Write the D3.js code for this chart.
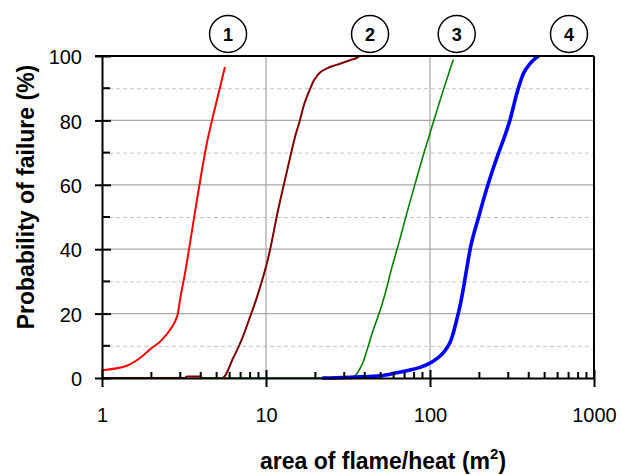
<!DOCTYPE html>
<html>
<head>
<meta charset="utf-8">
<script src="https://cdn.jsdelivr.net/npm/d3@7"></script>
<style>
  html, body { margin: 0; padding: 0; background: #fff; }
  svg { display: block; font-family: "Liberation Sans", Arial, sans-serif; }
</style>
</head>
<body>
<svg id="chart" width="622" height="475"></svg>
<script>
// Cumulative failure probability vs. exposed area (log scale)
const curve1X = [1.0, 1.415, 1.705, 2.01, 2.26, 2.60, 2.79, 2.906, 2.99, 3.075, 3.162, 3.44, 3.74, 4.07, 4.37, 4.69, 5.17, 5.62];
const curve1Y = [2.4, 3.8, 6.2, 9.3, 11.3, 15.0, 17.6, 20.2, 24.3, 27.7, 30.8, 41.9, 53.4, 64.6, 73.2, 80.1, 89.0, 96.6];

const curve2X = [1.0, 3.2, 3.3, 3.95, 4.1, 5.415, 6.32, 7.11, 7.88, 8.78, 9.49, 10.1, 10.83, 11.62, 12.75, 14.0, 15.24, 16.12, 16.81, 17.71, 18.55, 19.43, 20.46, 21.35, 23.22, 25.62, 28.27, 32.52, 35.4, 37.43];
const curve2Y = [0, 0, 0.5, 0.5, 0, 0, 6.3, 11.9, 18.1, 24.9, 30.5, 35.4, 42.2, 50.1, 59.3, 68.3, 76.0, 80.1, 83.8, 87.2, 89.7, 92.1, 93.8, 94.9, 96.0, 96.9, 97.6, 98.7, 99.3, 100];

const curve3X = [4.13, 33.3, 35.4, 37.4, 39.2, 41.9, 45.1, 48.4, 53.2, 58.7, 65.6, 70.4, 81.0, 91.0, 100, 120.5, 138.7];
const curve3Y = [0, 0, 1.0, 2.9, 5.1, 9.7, 15.0, 19.3, 26.1, 34.5, 43.2, 49.1, 60.2, 69.2, 76.0, 89.4, 98.9];

const curve4X = [22.0, 24.6, 39.2, 51.9, 62.7, 79.1, 86.9, 100, 110, 120.5, 126.5, 132.4, 138.7, 145.5, 152.4, 159.6, 167.4, 175.4, 197.0, 226.7, 260.9, 279.9, 307.4, 337.9, 370.6, 407.2, 436.8, 461.9];
const curve4Y = [0, 0, 0.4, 0.8, 1.6, 2.7, 3.3, 4.6, 6.0, 7.8, 9.3, 11.0, 14.0, 18.1, 22.4, 27.7, 33.9, 39.8, 49.6, 60.4, 69.7, 73.9, 80.1, 88.3, 94.5, 97.6, 99.2, 100];

const seriesColors = ["#ff0000", "#800000", "#008000", "#0000ff"];
const seriesWidths = [2, 2, 1.6, 3.6];

const labelText = ["1", "2", "3", "4"];
const labelAt = [5.87, 43.1, 145.5, 704];

const xMajorTicks = [1, 10, 100, 1000];
const yMajorTicks = [0, 20, 40, 60, 80, 100];
const yMinorTicks = [10, 30, 50, 70, 90];

const margin = { left: 102, right: 28, top: 56, bottom: 97 };
const W = 622, H = 475;
const svg = d3.select("#chart");

const x = d3.scaleLog().domain([1, 1000]).range([margin.left, W - margin.right]);
const y = d3.scaleLinear().domain([0, 100]).range([H - margin.bottom, margin.top]);

const xMinorTicks = [];
for (let d = 1; d < 1000; d *= 10) for (let k = 2; k <= 9; k++) xMinorTicks.push(d * k);

// grid
const grid = svg.append("g");
grid.selectAll("line.hmin").data(yMinorTicks).join("line")
  .attr("x1", x(1)).attr("x2", x(1000))
  .attr("y1", d => y(d) + 0.5).attr("y2", d => y(d) + 0.5)
  .attr("stroke", "#c4c4c4").attr("stroke-width", 1).attr("stroke-dasharray", "4,3");
grid.selectAll("line.hmaj").data(yMajorTicks.slice(1, -1)).join("line")
  .attr("x1", x(1)).attr("x2", x(1000))
  .attr("y1", d => y(d)).attr("y2", d => y(d))
  .attr("stroke", "#a6a6a6").attr("stroke-width", 1.2);
grid.selectAll("line.vmaj").data(xMajorTicks.slice(1, -1)).join("line")
  .attr("x1", d => x(d)).attr("x2", d => x(d))
  .attr("y1", y(0)).attr("y2", y(100))
  .attr("stroke", "#a6a6a6").attr("stroke-width", 1.2);

// curves
const series = [
  [curve1X, curve1Y], [curve2X, curve2Y], [curve3X, curve3Y], [curve4X, curve4Y]
];
const line = d3.line().x(d => x(d[0])).y(d => y(d[1])).curve(d3.curveMonotoneX);
series.forEach(([xs, ys], i) => {
  svg.append("path")
    .datum(xs.map((v, j) => [v, ys[j]]))
    .attr("d", line)
    .attr("fill", "none")
    .attr("stroke", seriesColors[i])
    .attr("stroke-width", seriesWidths[i])
    .attr("stroke-linejoin", "round");
});

// frame: top and right borders
svg.append("line").attr("x1", x(1) - 7).attr("x2", x(1000))
  .attr("y1", y(100)).attr("y2", y(100)).attr("stroke", "#000").attr("stroke-width", 2);
svg.append("line").attr("x1", x(1000)).attr("x2", x(1000))
  .attr("y1", y(100)).attr("y2", y(0)).attr("stroke", "#000").attr("stroke-width", 2);

// y axis
const yAxis = svg.append("g").attr("transform", `translate(${x(1)},0)`)
  .call(d3.axisLeft(y).tickValues(yMajorTicks).tickSize(0).tickPadding(20));
yAxis.select(".domain").attr("stroke", "#000").attr("stroke-width", 2);
yAxis.selectAll(".tick line").remove();
yAxis.selectAll(".tick").append("line")
  .attr("x1", -7).attr("x2", 9).attr("stroke", "#000").attr("stroke-width", 2);
yAxis.selectAll(".tick text")
  .attr("font-size", 20).attr("fill", "#000")
  .attr("font-family", "Liberation Sans, Arial, sans-serif").attr("dy", "0.38em");
yAxis.selectAll("line.minor").data(yMinorTicks).join("line")
  .attr("class", "minor")
  .attr("x1", 0).attr("x2", 8).attr("y1", d => y(d)).attr("y2", d => y(d))
  .attr("stroke", "#000").attr("stroke-width", 2);

// x axis
const xAxis = svg.append("g").attr("transform", `translate(0,${y(0)})`)
  .call(d3.axisBottom(x).tickValues(xMajorTicks).tickFormat(d3.format("d")).tickSize(0));
xAxis.select(".domain").attr("stroke", "#000").attr("stroke-width", 2);
xAxis.selectAll(".tick line").remove();
xAxis.selectAll(".tick").append("line")
  .attr("y1", -8).attr("y2", 9).attr("stroke", "#000").attr("stroke-width", 2);
xAxis.selectAll(".tick text")
  .attr("font-size", 20).attr("fill", "#000")
  .attr("font-family", "Liberation Sans, Arial, sans-serif")
  .attr("y", 44).attr("dy", 0);
xAxis.selectAll("line.minor").data(xMinorTicks).join("line")
  .attr("class", "minor")
  .attr("x1", d => x(d)).attr("x2", d => x(d)).attr("y1", -6).attr("y2", 0)
  .attr("stroke", "#000").attr("stroke-width", 2);

// axis titles
const xt = svg.append("text")
  .attr("x", 383).attr("y", 469).attr("text-anchor", "middle")
  .attr("font-size", 23).attr("font-weight", "bold").attr("fill", "#000");
xt.append("tspan").text("area of flame/heat (m");
xt.append("tspan").attr("font-size", 15).attr("dy", -10).text("2");
xt.append("tspan").attr("dy", 10).text(")");

svg.append("text")
  .attr("transform", "translate(34,197) rotate(-90)")
  .attr("text-anchor", "middle")
  .attr("font-size", 23).attr("font-weight", "bold").attr("fill", "#000")
  .text("Probability of failure (%)");

// circled curve numbers
const tags = svg.append("g").selectAll("g").data(labelText).join("g")
  .attr("transform", (d, i) => `translate(${x(labelAt[i])},34)`);
tags.append("circle").attr("r", 18.5).attr("fill", "#fff")
  .attr("stroke", "#000").attr("stroke-width", 1.5);
tags.append("text").attr("text-anchor", "middle").attr("y", 6.5)
  .attr("font-size", 18).attr("font-weight", "bold").attr("fill", "#000")
  .text(d => d);
</script>
</body>
</html>
